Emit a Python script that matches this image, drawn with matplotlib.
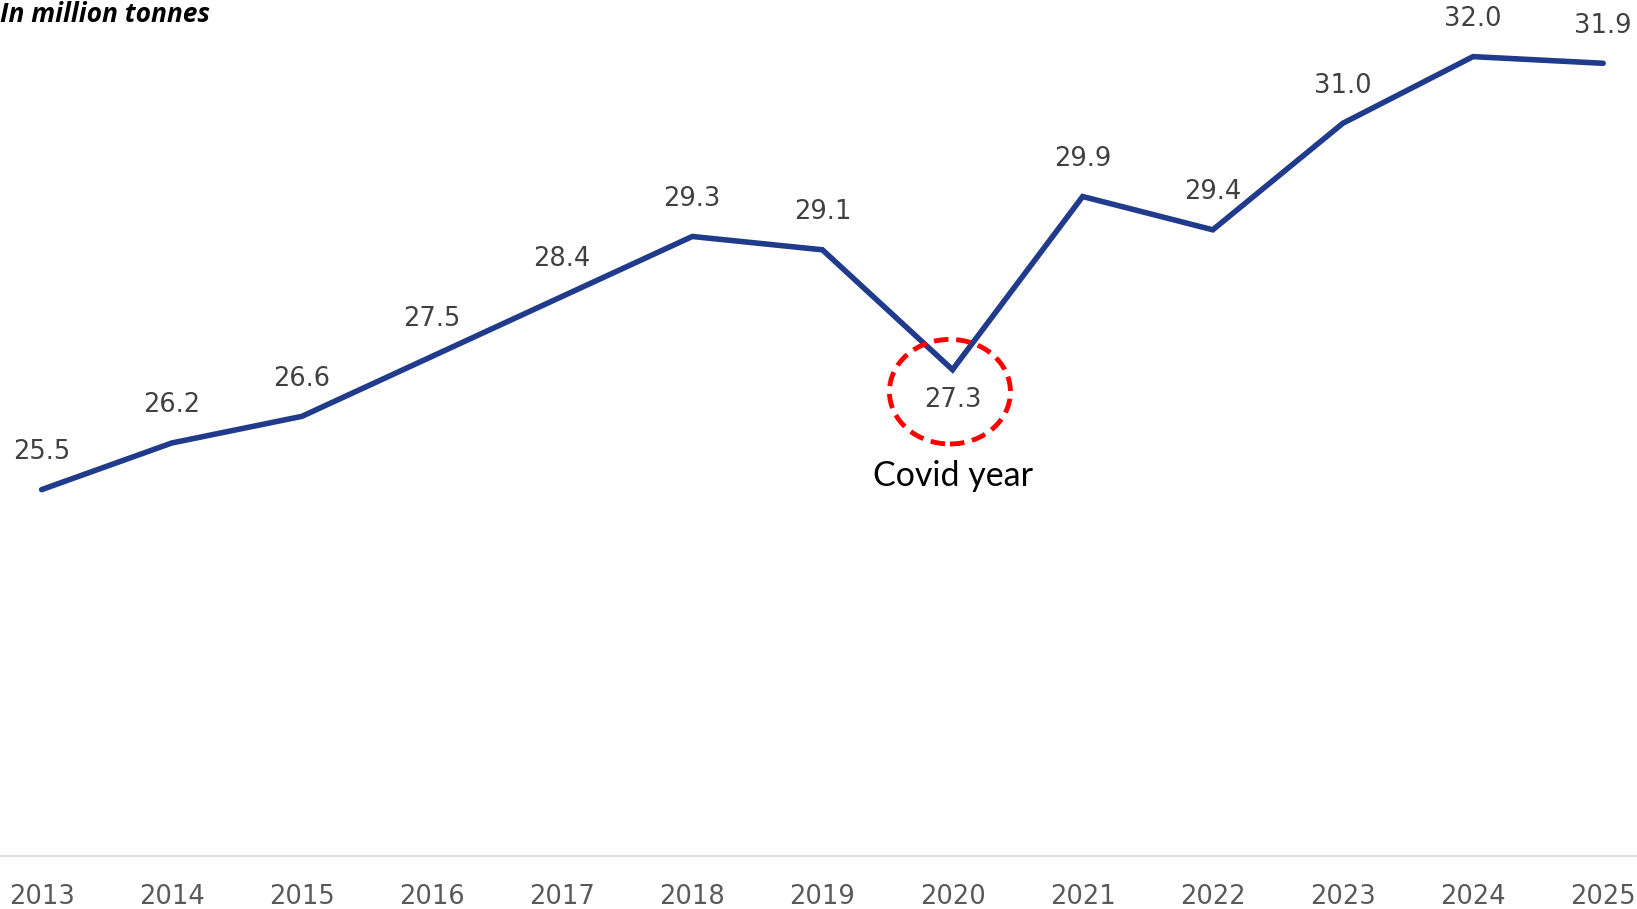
import matplotlib.pyplot as plt
from matplotlib.patches import Ellipse

years = [2013, 2014, 2015, 2016, 2017, 2018, 2019, 2020, 2021, 2022, 2023, 2024, 2025]
values = [25.5, 26.2, 26.6, 27.5, 28.4, 29.3, 29.1, 27.3, 29.9, 29.4, 31.0, 32.0, 31.9]
labels = ["25.5", "26.2", "26.6", "27.5", "28.4", "29.3", "29.1", "27.3",
          "29.9", "29.4", "31.0", "32.0", "31.9"]
covid_year = 2020

fig = plt.figure(figsize=(16.37, 9.09), dpi=100)
ax = fig.add_axes([0, 0.0583, 1, 0.9417])

ax.plot(years, values, color="#203A8C", linewidth=4, solid_capstyle="round",
        solid_joinstyle="miter", zorder=3)

for x, y, t in zip(years, values, labels):
    dy = -22 if x == covid_year else 27
    ax.annotate(t, (x, y), xytext=(0, dy), textcoords="offset points",
                ha="center", va="center", fontsize=18.5, color="#404040",
                family="DejaVu Sans")

# dashed circle around the covid dip
ax.add_patch(Ellipse((covid_year - 0.02, 26.97), 0.93, 1.57, fill=False,
                     edgecolor="#FF0000", linewidth=3.5,
                     linestyle=(0, (3, 1.6)), zorder=4))
ax.text(covid_year, 25.7, "Covid year", ha="center", va="center",
        fontsize=24.5, color="black", family="Lato")

ax.set_xlim(2012.68, 2025.26)
ax.set_ylim(20, 32.85)
ax.set_xticks(years)
ax.set_xticklabels([str(y) for y in years], fontsize=18.5, color="#595959",
                   family="DejaVu Sans")
ax.set_yticks([])
ax.tick_params(axis="x", length=0, pad=20)
for s in ["top", "left", "right"]:
    ax.spines[s].set_visible(False)
ax.spines["bottom"].set_color("#D9D9D9")
ax.spines["bottom"].set_linewidth(1.2)

fig.text(0.0, 0.999, "In million tonnes", ha="left", va="top", fontsize=19,
         fontweight="bold", fontstyle="italic", family="Open Sans", color="black")

fig.savefig("out.png", dpi=100)
